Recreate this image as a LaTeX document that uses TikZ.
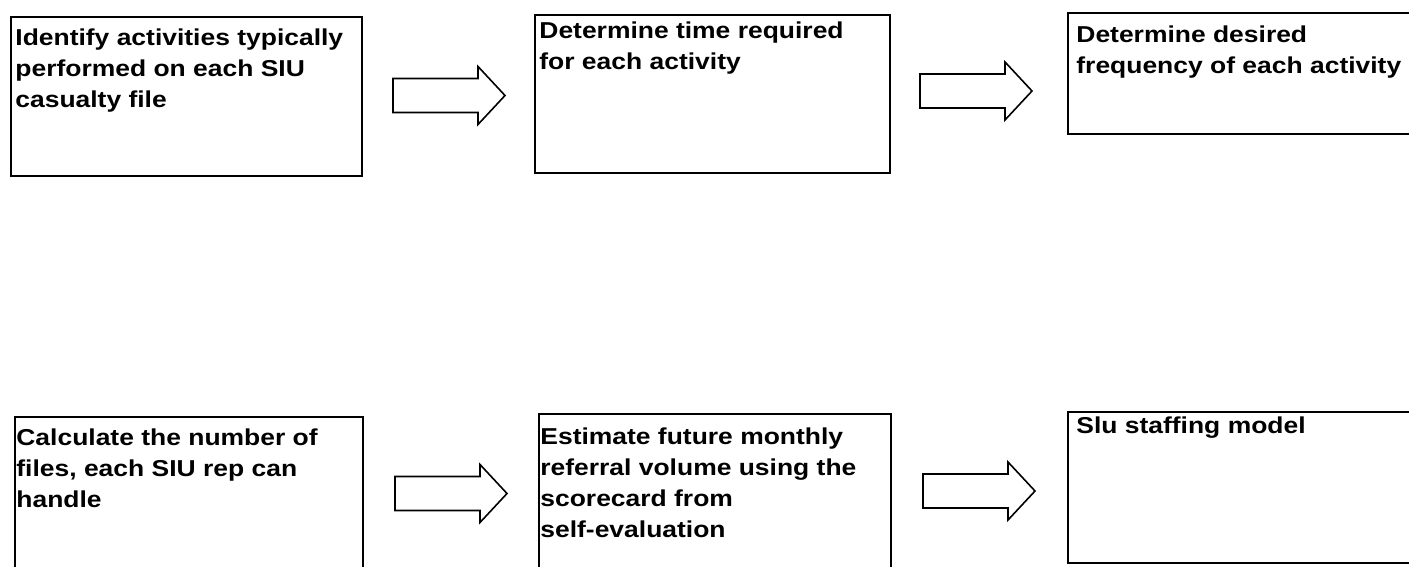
\documentclass[tikz,border=0pt]{standalone}
\usepackage{fontspec}
\setmainfont{Liberation Sans}[FakeStretch=1.15]
\usetikzlibrary{calc,fit}
\begin{document}
\begin{tikzpicture}[x=0.5pt,y=-0.5pt,
  stepbox/.style={draw=black,line width=1pt,inner sep=0pt,fit=#1},
  txt/.style={anchor=north west,inner sep=0pt,align=left,
    font=\fontsize{11.5}{15.5}\selectfont\bfseries},
  blockarrow/.style={draw=black,line width=0.8pt,line join=miter},
  pics/flowarrow/.style={code={
    \draw[blockarrow] (0,-17) -- (85,-17) -- (85,-29) -- (112,0)
      -- (85,29) -- (85,17) -- (0,17) -- cycle;}}]
\clip (0,0) rectangle (1409,567);
\fill[white] (0,0) rectangle (1409,567);

% box corners
\coordinate (p1a) at (11,17);   \coordinate (p1b) at (362,176);
\coordinate (p2a) at (535,15);  \coordinate (p2b) at (890,173);
\coordinate (p3a) at (1068,13); \coordinate (p3b) at (1416,134);
\coordinate (p4a) at (15,417);  \coordinate (p4b) at (363,580);
\coordinate (p5a) at (539,414); \coordinate (p5b) at (891,580);
\coordinate (p6a) at (1068,412);\coordinate (p6b) at (1416,563);

% process boxes
\node[stepbox={(p1a)(p1b)}] (b1) {};
\node[stepbox={(p2a)(p2b)}] (b2) {};
\node[stepbox={(p3a)(p3b)}] (b3) {};
\node[stepbox={(p4a)(p4b)}] (b4) {};
\node[stepbox={(p5a)(p5b)}] (b5) {};
\node[stepbox={(p6a)(p6b)}] (b6) {};

% box texts
\node[txt] (t1) at ($(b1.north west)+(5,12)$)
  {Identify activities typically\\performed on each SIU\\casualty file};
\node[txt] (t2) at ($(b2.north west)+(5,7)$)
  {Determine time required\\for each activity};
\node[txt] (t3) at ($(b3.north west)+(9,13)$)
  {Determine desired\\frequency of each activity};
\node[txt] (t4) at ($(b4.north west)+(2,12)$)
  {Calculate the number of\\files, each SIU rep can\\handle};
\node[txt] (t5) at ($(b5.north west)+(2,14)$)
  {Estimate future monthly\\referral volume using the\\scorecard from\\self-evaluation};
\node[txt] (t6) at ($(b6.north west)+(9,5)$)
  {Slu staffing model};

% block arrows between the steps
\pic at (393,95.5) {flowarrow};
\pic at (920,91) {flowarrow};
\pic at (395,493.5) {flowarrow};
\pic at (923,491) {flowarrow};
\end{tikzpicture}
\end{document}
